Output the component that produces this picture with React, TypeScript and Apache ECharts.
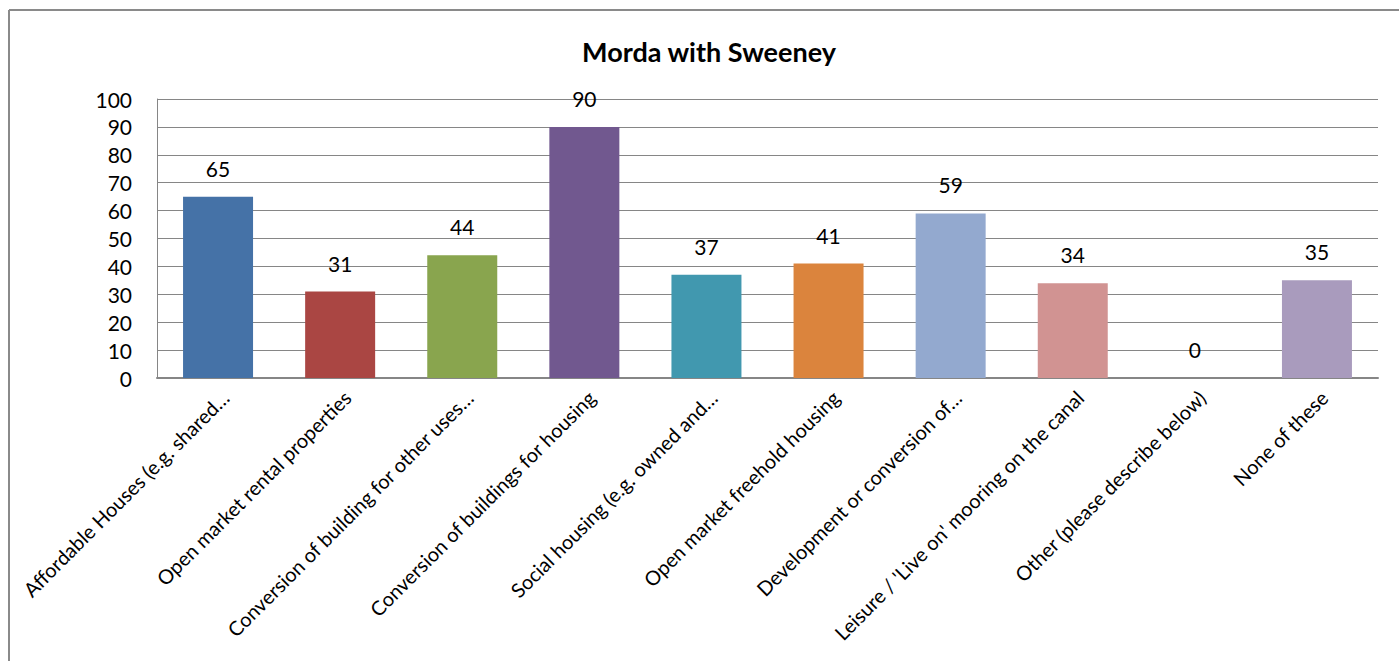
import React, { useEffect, useRef } from "react";
import * as echarts from "echarts";

const titleText = "Morda with Sweeney";
const categories = [
  "Affordable Houses (e.g. shared…",
  "Open market rental properties",
  "Conversion of building for other uses…",
  "Conversion of buildings for housing",
  "Social housing (e.g. owned and…",
  "Open market freehold housing",
  "Development or conversion of…",
  "Leisure / 'Live on' mooring on the canal",
  "Other (please describe below)",
  "None of these",
];
const values = [65, 31, 44, 90, 37, 41, 59, 34, 0, 35];
const colors = [
  "#4572A7",
  "#AA4643",
  "#89A54E",
  "#71588F",
  "#4198AF",
  "#DB843D",
  "#93A9CF",
  "#D19392",
  "#B9CD96",
  "#A99BBD",
];
const yMin = 0;
const yMax = 100;
const yStep = 10;

export default function App() {
  const ref = useRef<HTMLDivElement>(null);
  useEffect(() => {
    if (!ref.current) return;
    const chart = echarts.init(ref.current, undefined, { renderer: "svg" });
    const font = "Lato, 'Open Sans', sans-serif";
    chart.setOption({
      animation: false,
      backgroundColor: "#ffffff",
      textStyle: { fontFamily: font },
      graphic: [
        {
          type: "line",
          shape: { x1: 9, y1: 10, x2: 1399, y2: 10 },
          style: { stroke: "#8a8a8a", lineWidth: 2 },
          silent: true,
        },
        {
          type: "line",
          shape: { x1: 9, y1: 10, x2: 9, y2: 661 },
          style: { stroke: "#8a8a8a", lineWidth: 2 },
          silent: true,
        },
      ],
      title: {
        text: titleText,
        left: 704,
        top: 33,
        textAlign: "center",
        textStyle: { fontFamily: font, fontSize: 27, fontWeight: "bold", color: "#000" },
      },
      grid: { left: 157, right: 21, top: 99, bottom: 283, containLabel: false },
      xAxis: {
        type: "category",
        data: categories,
        axisLine: { show: true, lineStyle: { color: "#868686", width: 2 } },
        axisTick: { show: false },
        axisLabel: {
          interval: 0,
          rotate: 45,
          margin: 9,
          verticalAlign: "top",
          align: "right",
          fontFamily: font,
          fontSize: 20,
          color: "#000",
        },
      },
      yAxis: {
        type: "value",
        min: yMin,
        max: yMax,
        interval: yStep,
        axisLine: { show: true, lineStyle: { color: "#868686", width: 1 } },
        axisTick: { show: false },
        splitLine: { show: true, lineStyle: { color: "#868686", width: 1 } },
        axisLabel: { margin: 25, fontFamily: font, fontSize: 21, color: "#000" },
      },
      series: [
        {
          type: "bar",
          barWidth: 70,
          data: values.map((v, i) => ({ value: v, itemStyle: { color: colors[i] } })),
          label: {
            show: true,
            position: "top",
            distance: 18,
            fontFamily: font,
            fontSize: 21,
            color: "#000",
          },
        },
      ],
    });
    return () => chart.dispose();
  }, []);
  return (
    <div
      ref={ref}
      style={{ position: "fixed", left: 0, top: 0, width: 1399, height: 661 }}
    />
  );
}
